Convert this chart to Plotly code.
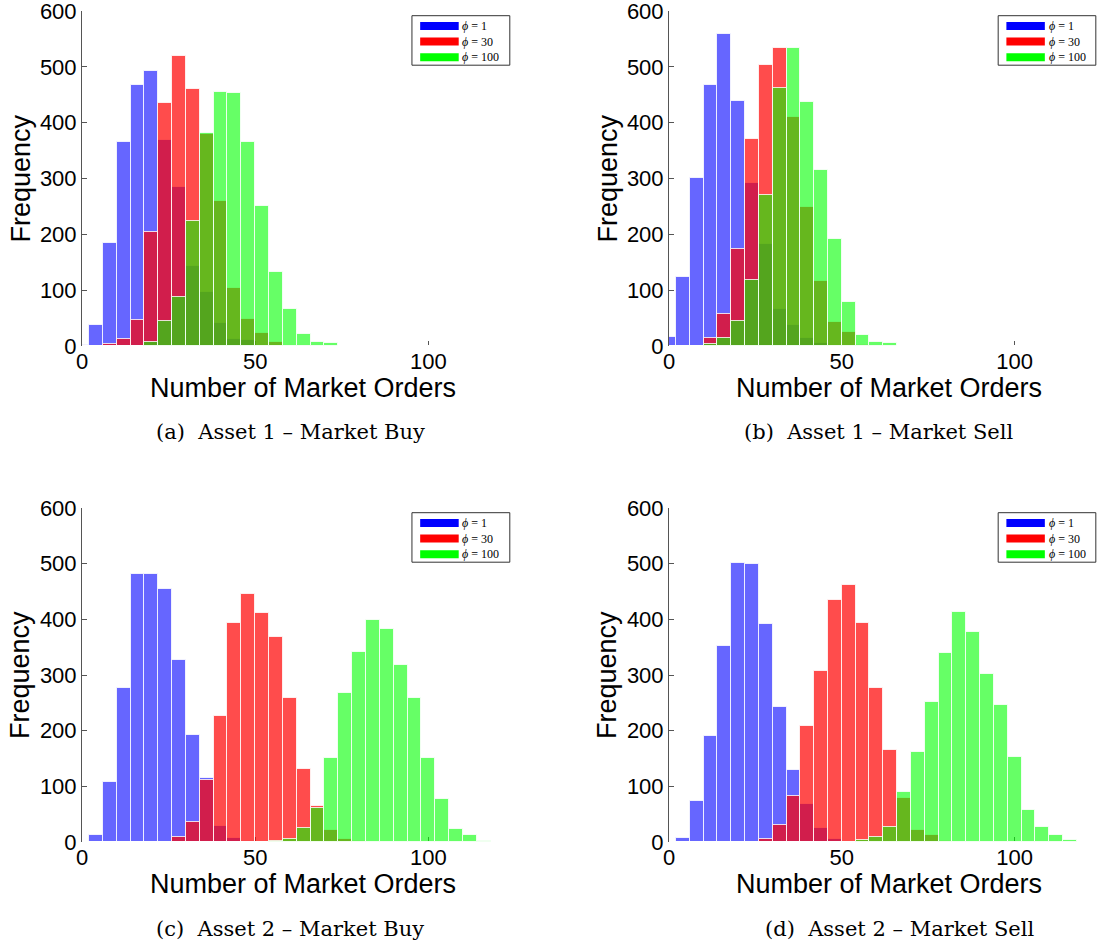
import plotly.graph_objects as go

# Histogram bin centres (bin width 4) shared by every panel
BIN_CENTERS = [0, 4, 8, 12, 16, 20, 24, 28, 32, 36, 40, 44, 48, 52, 56,
               60, 64, 68, 72, 76, 80, 84, 88, 92, 96, 100, 104, 108, 112, 116]
BIN_WIDTH = 4

SERIES_NAMES = ["ϕ = 1", "ϕ = 30", "ϕ = 100"]

# (a) Asset 1 - Market Buy
a_phi1 = [1, 38, 184, 365, 467, 492, 369, 284, 143, 96, 41, 12, 11, 0, 0,
          0, 0, 0, 0, 0, 0, 0, 0, 0, 0, 0, 0, 0, 0, 0]
a_phi30 = [0, 0, 4, 13, 47, 205, 435, 520, 461, 380, 260, 103, 48, 24, 7,
           0, 0, 0, 0, 0, 0, 0, 0, 0, 0, 0, 0, 0, 0, 0]
a_phi100 = [0, 0, 0, 0, 0, 7, 44, 87, 224, 381, 455, 454, 366, 250, 133,
            66, 22, 8, 5, 0, 0, 0, 0, 0, 0, 0, 0, 0, 0, 0]

# (b) Asset 1 - Market Sell
b_phi1 = [16, 123, 301, 467, 559, 438, 292, 183, 66, 37, 14, 6, 0, 0, 0,
          0, 0, 0, 0, 0, 0, 0, 0, 0, 0, 0, 0, 0, 0, 0]
b_phi30 = [0, 0, 0, 15, 58, 174, 370, 504, 533, 411, 249, 117, 43, 25, 2,
           0, 0, 0, 0, 0, 0, 0, 0, 0, 0, 0, 0, 0, 0, 0]
b_phi100 = [0, 0, 0, 3, 15, 44, 118, 270, 462, 533, 437, 316, 192, 78, 20,
            8, 6, 0, 0, 0, 0, 0, 0, 0, 0, 0, 0, 0, 0, 0]

# (c) Asset 2 - Market Buy
c_phi1 = [0, 12, 107, 276, 481, 482, 455, 327, 192, 115, 29, 7, 2, 0, 0,
          0, 0, 0, 0, 0, 0, 0, 0, 0, 0, 0, 0, 0, 0, 0]
c_phi30 = [0, 0, 0, 0, 0, 0, 0, 9, 36, 111, 226, 394, 446, 411, 368,
           259, 131, 64, 22, 6, 2, 0, 0, 0, 0, 0, 0, 0, 0, 0]
c_phi100 = [0, 0, 0, 0, 0, 0, 0, 0, 0, 0, 0, 0, 0, 0, 2,
            6, 26, 61, 151, 268, 341, 398, 382, 318, 258, 151, 78, 24, 13, 2]

# (d) Asset 2 - Market Sell
d_phi1 = [0, 7, 74, 190, 353, 501, 500, 392, 242, 129, 68, 25, 6, 0, 0,
          0, 0, 0, 0, 0, 0, 0, 0, 0, 0, 0, 0, 0, 0, 0]
d_phi30 = [0, 0, 0, 0, 0, 0, 0, 6, 30, 82, 209, 308, 434, 461, 393,
           277, 165, 79, 22, 13, 2, 0, 0, 0, 0, 0, 0, 0, 0, 0]
d_phi100 = [0, 0, 0, 0, 0, 0, 0, 0, 0, 0, 0, 0, 0, 0, 3,
            9, 27, 90, 161, 252, 340, 413, 378, 302, 246, 153, 57, 27, 13, 3]

CAPTIONS = ["(a)  Asset 1 – Market Buy", "(b)  Asset 1 – Market Sell",
            "(c)  Asset 2 – Market Buy", "(d)  Asset 2 – Market Sell"]

PANELS = [(a_phi1, a_phi30, a_phi100), (b_phi1, b_phi30, b_phi100),
          (c_phi1, c_phi30, c_phi100), (d_phi1, d_phi30, d_phi100)]

FILL = ["rgba(0,0,255,0.6)", "rgba(255,0,0,0.7)", "rgba(0,255,0,0.6)"]
SOLID = ["#0000ff", "#ff0000", "#00ff00"]

W, H = 1103, 947
# plot areas in pixels: (left, right, top, bottom)
AREAS = [(82, 515, 11, 346), (669, 1101, 11, 346),
         (82, 515, 508, 842), (669, 1101, 508, 842)]
CAPTION_POS = [(290, 432), (879, 432), (290, 929), (900, 929)]

SANS = "Liberation Sans, Arial, sans-serif"
SERIF = "DejaVu Serif, serif"

fig = go.Figure()
layout = dict(width=W, height=H, autosize=False,
              margin=dict(l=0, r=0, t=0, b=0, autoexpand=False),
              paper_bgcolor="white", plot_bgcolor="white",
              barmode="overlay", bargap=0, showlegend=False)
annotations, shapes = [], []

for i, (series, area) in enumerate(zip(PANELS, AREAS)):
    sfx = "" if i == 0 else str(i + 1)
    xa, ya = "x" + sfx, "y" + sfx
    left, right, top, bottom = area
    for name, counts, fill in zip(SERIES_NAMES, series, FILL):
        fig.add_trace(go.Bar(
            x=BIN_CENTERS, y=counts, width=BIN_WIDTH, name=name,
            marker=dict(color=fill,
                        line=dict(color="rgba(255,255,255,0.8)", width=1)),
            xaxis=xa, yaxis=ya, hoverinfo="x+y+name"))

    layout["xaxis" + sfx] = dict(
        domain=[left / W, right / W], anchor=ya, range=[0, 125],
        tickvals=[0, 50, 100], ticks="inside", ticklen=5, tickcolor="#555",
        showline=False, showgrid=False, zeroline=False, layer="below traces",
        automargin=False, ticklabeloverflow="allow",
        tickfont=dict(family=SANS, size=22, color="black"))
    layout["yaxis" + sfx] = dict(
        domain=[1 - bottom / H, 1 - top / H], anchor=xa, range=[0, 600],
        tickvals=[0, 100, 200, 300, 400, 500, 600], ticks="inside",
        ticklen=5, tickcolor="#555", showline=True, linecolor="#555",
        linewidth=1, showgrid=False, zeroline=False, automargin=False,
        ticklabeloverflow="allow",
        tickfont=dict(family=SANS, size=22, color="black"))

    # axis titles
    annotations.append(dict(
        text="Number of Market Orders", xref="paper", yref="paper",
        x=(left + right) / 2 / W + 0.004, y=1 - (bottom + 42) / H,
        showarrow=False, xanchor="center", yanchor="middle",
        font=dict(family=SANS, size=27, color="black")))
    annotations.append(dict(
        text="Frequency", xref="paper", yref="paper",
        x=(left - 62) / W, y=1 - (top + bottom) / 2 / H, textangle=-90,
        showarrow=False, xanchor="center", yanchor="middle",
        font=dict(family=SANS, size=27, color="black")))

    # sub-figure caption
    cx, cy = CAPTION_POS[i]
    annotations.append(dict(
        text=CAPTIONS[i], xref="paper", yref="paper", x=cx / W, y=1 - cy / H,
        showarrow=False, xanchor="center", yanchor="middle",
        font=dict(family=SERIF, size=21, color="black")))

    # legend box with wide colour patches and one multi-line label block
    xd, yd = xa + " domain", ya + " domain"
    span = bottom - top
    row = 15.6 / span
    y_first = 1 - 15 / span
    shapes.append(dict(type="rect", xref=xd, yref=yd, x0=0.762, x1=0.988,
                       y0=y_first - 2 * row - 8 / span, y1=1 - 4.7 / span,
                       line=dict(color="#333", width=1),
                       fillcolor="white", layer="above"))
    labels = []
    for k, (name, col) in enumerate(zip(SERIES_NAMES, SOLID)):
        yc = y_first - k * row
        shapes.append(dict(type="rect", xref=xd, yref=yd, x0=0.781, x1=0.870,
                           y0=yc - 4 / span, y1=yc + 4 / span,
                           line=dict(width=0), fillcolor=col, layer="above"))
        phi, rest = name.split(" ", 1)
        labels.append("<i>" + phi + "</i> " + rest)
    annotations.append(dict(
        text="<br>".join(labels), xref=xd, yref=yd, x=0.874,
        y=y_first - row, showarrow=False, xanchor="left", yanchor="middle",
        align="left",
        font=dict(family="Liberation Serif, serif", size=12, color="black")))

layout["annotations"] = annotations
layout["shapes"] = shapes
fig.update_layout(**layout)
fig.write_html("out.html")
